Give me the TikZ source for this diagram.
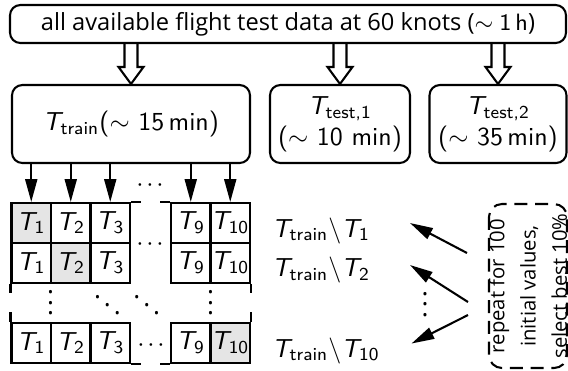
\documentclass[tikz,border=0pt]{standalone}
\usepackage{fontspec}
\setmainfont{Open Sans}
\usetikzlibrary{arrows.meta,calc}
\newcommand{\px}{0.385pt}
\newcommand{\Tsb}[1]{\mbox{\sffamily\slshape T}_{\mbox{\sffamily\scriptsize #1}}}
\newcommand{\cellgap}{${\cdot}\mkern2mu{\cdot}\mkern2mu{\cdot}$}

\begin{document}
\begin{tikzpicture}[x=\px, y=-\px, >={Triangle[length=8.8pt, width=4.6pt]}, thick,
    box/.style={draw, rounded corners=4pt, align=center, inner sep=1pt, font=\sffamily},
    cell/.style={draw, minimum width=39.5*\px, minimum height=40*\px, inner sep=0pt, font=\sffamily},
    gap/.style={inner sep=0pt, anchor=base}]
  \useasboundingbox (0,0) rectangle (568,370);

  % === data split ===
  \node[box, font=\fontsize{9.1}{11}\selectfont, minimum width=556*\px, minimum height=38*\px] (all) at (288,24) {all available flight test data at 60 knots ($\sim$ {\sffamily 1\,h})};
  \node[box, minimum width=238*\px, minimum height=78*\px] (train) at (131,124) {$\Tsb{train}$($\sim$ 15\,min)};
  \node[box, minimum width=140*\px, minimum height=78*\px] (testa) at (340,124) {$\Tsb{test,1}$\\($\sim$ 10 min)};
  \node[box, minimum width=137*\px, minimum height=78*\px] (testb) at (498,124) {$\Tsb{test,2}$\\($\sim$ 35\,min)};

  % hollow arrows
  \foreach \n in {train,testa,testb}{
    \coordinate (in\n) at (all.south -| \n.north);
    \draw ($(in\n)+(-6.5,0)$) -- ($(\n.north)+(-6.5,-17)$) -- ($(\n.north)+(-12.5,-17)$) -- (\n.north)
      -- ($(\n.north)+(12.5,-17)$) -- ($(\n.north)+(6.5,-17)$) -- ($(in\n)+(6.5,0)$);
  }

  % === folds ===
  \foreach \r/\y/\hl in {1/223/1, 2/263/2, 3/343/10}
    \foreach \c/\x in {1/31.25, 2/70.75, 3/110.25, 9/190.75, 10/230.25}{
      \ifnum\c=\hl \def\cf{gray!20}\else\def\cf{white}\fi
      \node[cell, fill=\cf] (c\r-\c) at (\x,\y) {$\Tsb{\c}$};
    }
  \foreach \c in {1,2,3,9,10}
    \draw[->] (train.south -| c1-\c.north) -- (c1-\c.north);

  % open ends of the table
  \draw (c1-3.north east) -- ++(10,0);
  \draw (c1-9.north west) -- ++(-10,0);
  \draw (c2-1.south west) -- ++(0,9);
  \draw (c2-10.south east) -- ++(0,9);
  \draw (c3-1.north west) -- ++(0,-10);
  \draw (c3-10.north east) -- ++(0,-10);
  \draw (c3-3.south east) -- ++(10,0);
  \draw (c3-9.south west) -- ++(-10,0);

  % dots
  \node[gap] (h0) at (150,191.5) {\cellgap};
  \node[gap] (h1) at (150,250.5) {\cellgap};
  \node[gap] (h3) at (151,351.5) {\cellgap};
  \node[gap] (v1) at (50.7,314.5) {$\vdots$};
  \node[gap] (v2) at (210.5,314.5) {$\vdots$};
  \node[gap, anchor=base west] (d1) at (91.7,317) {$\ddots$};
  \node[gap, anchor=base west] (d2) at (131,317) {$\ddots$};

  % === remaining sets ===
  \node[anchor=base west, inner sep=0pt] (rest1) at (271,237) {$\Tsb{train}\backslash\Tsb{1}$};
  \node[anchor=base west, inner sep=0pt] (rest2) at (271,276.5) {$\Tsb{train}\backslash\Tsb{2}$};
  \node[anchor=base west, inner sep=0pt] (rest3) at (271,357) {$\Tsb{train}\backslash\Tsb{10}$};
  \node[gap] (v3) at (425,316) {$\vdots$};

  \node[draw, dash pattern=on 5pt off 3pt, rounded corners=5pt, rotate=90, align=center,
    minimum width=164*\px, minimum height=76*\px, inner sep=0pt,
    font=\fontsize{7.8}{9}\selectfont] (rep) at (528,286) {repeat for 100\\[3pt]initial values,\\[3pt]select best 10\%};

  \coordinate (p1) at (467,253); \coordinate (q1) at (410,223);
  \coordinate (p2) at (468,302); \coordinate (q2) at (410,265);
  \coordinate (p3) at (468,315); \coordinate (q3) at (411.5,343.5);
  \foreach \i in {1,2,3}
    \draw[->] (p\i) -- (q\i);
\end{tikzpicture}
\end{document}
